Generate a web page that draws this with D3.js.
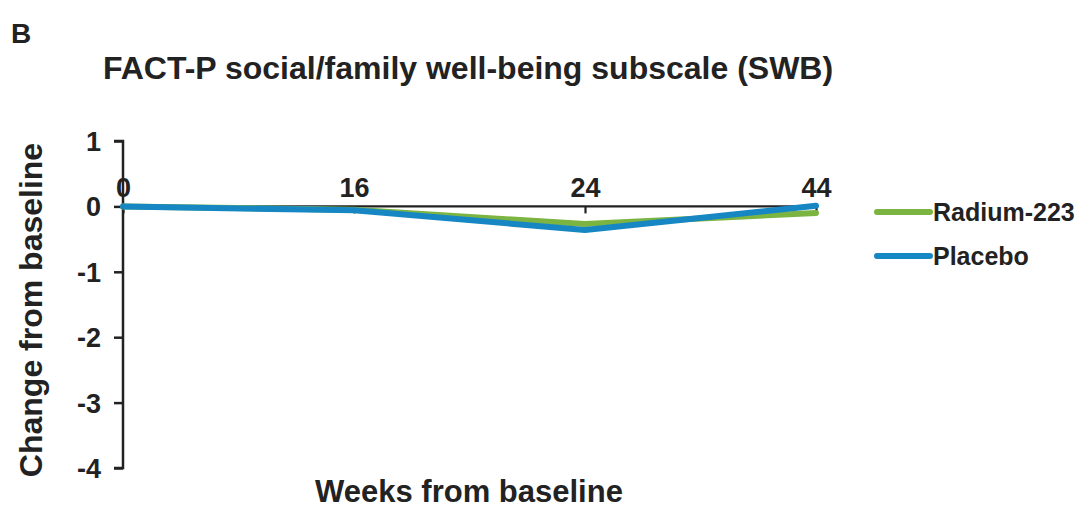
<!DOCTYPE html>
<html>
<head>
<meta charset="utf-8">
<script src="https://cdn.jsdelivr.net/npm/d3@7"></script>
<style>
  body { margin: 0; background: #fff; }
  svg { display: block; font-family: "Liberation Sans", Arial, sans-serif; }
</style>
</head>
<body>
<svg id="chart" width="1089" height="510"></svg>
<script>
// Weeks from baseline (categorical positions)
const weeks = ["0", "16", "24", "44"];
// Mean change from baseline in SWB score
const radium = [0, -0.05, -0.27, -0.1];
const placebo = [0, -0.06, -0.36, 0.01];
const yTicks = [1, 0, -1, -2, -3, -4];
const seriesNames = ["Radium-223", "Placebo"];
const seriesColors = ["#7cb442", "#1787c4"];

const ink = "#222";
const font = "Liberation Sans, Arial, sans-serif";
const svg = d3.select("#chart");
const x = d3.scalePoint().domain(weeks).range([123, 816]);
const y = d3.scaleLinear().domain([-4, 1]).range([468, 141]);

// Panel letter and title
svg.append("text").attr("x", 11).attr("y", 43)
  .attr("font-size", 28).attr("font-weight", "bold").attr("fill", ink).text("B");
svg.append("text").attr("x", 468).attr("y", 79).attr("text-anchor", "middle")
  .attr("font-size", 32).attr("font-weight", "bold").attr("fill", ink)
  .text("FACT-P social/family well-being subscale (SWB)");

// Y axis with end caps
const yAxis = svg.append("g").attr("transform", "translate(123,0)")
  .call(d3.axisLeft(y).tickValues(yTicks).tickSize(9).tickPadding(13)
    .tickFormat(d => String(d)));
yAxis.select(".domain").attr("stroke", ink).attr("stroke-width", 2.5)
  .attr("d", `M-9,${y(1)}H0V${y(-4)}H-9`);
yAxis.selectAll(".tick line").attr("stroke", ink).attr("stroke-width", 2.5);
yAxis.selectAll(".tick text").attr("font-size", 27).attr("font-weight", "bold")
  .attr("fill", ink).attr("font-family", font).attr("dy", "0.35em");

// X axis along zero, labels above
const xAxis = svg.append("g").attr("transform", `translate(0,${y(0)})`)
  .call(d3.axisBottom(x).tickSize(7).tickPadding(0).tickSizeOuter(0));
xAxis.select(".domain").attr("stroke", ink).attr("stroke-width", 2.2)
  .attr("d", `M${x("0")},0H${x("44")}`);
xAxis.selectAll(".tick line").attr("stroke", ink).attr("stroke-width", 2.2);
xAxis.selectAll(".tick text").attr("y", -9).attr("dy", 0)
  .attr("font-size", 27).attr("font-weight", "bold").attr("fill", ink)
  .attr("font-family", font);

// Series lines
const line = d3.line().x((d, i) => x(weeks[i])).y(d => y(d));
[radium, placebo].forEach((vals, k) => {
  svg.append("path").datum(vals).attr("d", line)
    .attr("fill", "none").attr("stroke", seriesColors[k])
    .attr("stroke-width", 6).attr("stroke-linejoin", "round").attr("stroke-linecap", "round");
});

// Legend
const legend = svg.append("g");
seriesNames.forEach((name, k) => {
  const yy = 212 + k * 44;
  legend.append("line").attr("x1", 877).attr("x2", 930).attr("y1", yy).attr("y2", yy)
    .attr("stroke", seriesColors[k]).attr("stroke-width", 6).attr("stroke-linecap", "round");
  legend.append("text").attr("x", 933).attr("y", yy + 9)
    .attr("font-size", 25).attr("font-weight", "bold").attr("fill", ink).text(name);
});

// Axis titles
svg.append("text").attr("transform", "translate(42,310) rotate(-90)")
  .attr("text-anchor", "middle").attr("font-size", 32).attr("font-weight", "bold")
  .attr("fill", ink).text("Change from baseline");
svg.append("text").attr("x", 469).attr("y", 502).attr("text-anchor", "middle")
  .attr("font-size", 31).attr("font-weight", "bold").attr("fill", ink)
  .text("Weeks from baseline");
</script>
</body>
</html>
